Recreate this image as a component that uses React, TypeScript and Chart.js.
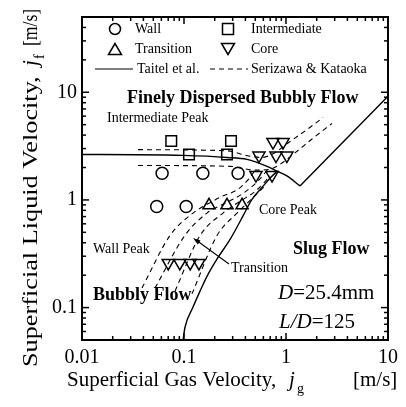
import React, { useEffect, useRef } from 'react';
import { Chart, registerables } from 'chart.js';

Chart.register(...registerables);

const SERIF = '"Liberation Serif", "Times New Roman", serif';

// Measured peak types: gas velocity jg and liquid velocity jf [m/s]
const wallJg = [0.054, 0.105, 0.061, 0.153, 0.339];
const wallJf = [0.87, 0.87, 1.77, 1.77, 1.77];
const interJg = [0.075, 0.289, 0.112, 0.264];
const interJf = [3.53, 3.53, 2.64, 2.64];
const transJg = [0.176, 0.264, 0.371];
const transJf = [0.89, 0.89, 0.89];
const coreJg = [0.07, 0.091, 0.115, 0.14, 0.508, 0.73, 0.543, 0.798, 1.02, 0.746, 0.935];
const coreJf = [0.26, 0.26, 0.26, 0.26, 1.7, 1.7, 2.58, 2.58, 2.58, 3.45, 3.45];

// Taitel et al. boundaries
const taitelDispJg = [0.01, 0.015, 0.098, 0.264, 0.415, 0.652, 0.817, 1.02, 1.37];
const taitelDispJf = [2.64, 2.64, 2.59, 2.48, 2.38, 2.05, 1.85, 1.67, 1.35];
const taitelRightJg = [1.37, 10];
const taitelRightJf = [1.35, 9.2];
const taitelSlugJg = [0.098, 0.102, 0.122, 0.144, 0.168, 0.211, 0.283, 0.379, 0.46, 0.58, 0.7, 0.82];
const taitelSlugJf = [0.05, 0.065, 0.1, 0.143, 0.195, 0.283, 0.43, 0.71, 1.0, 1.3, 1.6, 1.85];

// Serizawa & Kataoka boundaries
const sk1Jg = [0.0354, 0.264, 0.415, 0.582, 0.78, 1.046, 1.57, 2.31];
const sk1Jf = [2.93, 2.86, 2.58, 2.48, 2.75, 3.38, 4.43, 5.82];
const sk2Jg = [0.0354, 0.283, 0.497, 0.697, 0.873, 1.17, 1.8, 2.82];
const sk2Jf = [2.09, 2.05, 1.89, 1.93, 2.14, 2.64, 3.68, 5.13];
const sk3Jg = [0.0387, 0.073, 0.1225, 0.176, 0.236, 0.331, 0.415, 0.508];
const sk3Jf = [0.152, 0.468, 0.755, 0.93, 1.08, 1.24, 1.5, 1.93];
const sk4Jg = [0.052, 0.102, 0.168, 0.252, 0.379, 0.531, 0.667];
const sk4Jf = [0.152, 0.468, 0.755, 0.93, 1.15, 1.5, 1.93];
const sk5Jg = [0.0817, 0.144, 0.241, 0.354, 0.52, 0.697];
const sk5Jf = [0.1426, 0.468, 0.755, 0.97, 1.24, 1.67];
const sk6Jg = [0.1197, 0.211, 0.331, 0.465, 0.622];
const sk6Jf = [0.134, 0.468, 0.755, 1.03, 1.35];

const xTicks = [0.01, 0.1, 1, 10];
const yTicks = [0.1, 1, 10];

const pts = (xs: number[], ys: number[]) => xs.map((x, i) => ({ x, y: ys[i] }));

const markerSet = (label: string, xs: number[], ys: number[], style: string, rotation = 0, radius = 6) => ({
  label,
  data: pts(xs, ys),
  showLine: false,
  pointStyle: style,
  rotation,
  pointRadius: radius,
  pointBorderWidth: 1.5,
  pointBorderColor: '#000',
  pointBackgroundColor: 'rgba(0,0,0,0)',
});

const curveSet = (label: string, xs: number[], ys: number[], dashed: boolean, smooth = true) => ({
  label,
  data: pts(xs, ys),
  showLine: true,
  borderColor: '#000',
  borderWidth: dashed ? 1.1 : 1.4,
  borderDash: dashed ? [5, 4] : [],
  pointRadius: 0,
  cubicInterpolationMode: smooth ? ('monotone' as const) : ('default' as const),
  tension: 0,
  fill: false,
});

type Run = { t: string; font: string; dy?: number; at?: number; sx?: number };

function drawRuns(ctx: CanvasRenderingContext2D, x: number, y: number, runs: Run[]) {
  let cx = x;
  for (const r of runs) {
    ctx.font = r.font;
    if (r.at !== undefined) cx = x + r.at;
    const sx = r.sx || 1;
    ctx.save();
    ctx.translate(cx, y + (r.dy || 0));
    ctx.scale(sx, 1);
    ctx.fillText(r.t, 0, 0);
    ctx.restore();
    cx += ctx.measureText(r.t).width * sx;
  }
}

const decor = {
  id: 'decor',
  afterDraw(chart: any) {
    const { ctx, chartArea: a, scales } = chart;
    const xs = scales.x;
    const ys = scales.y;
    ctx.save();
    ctx.strokeStyle = '#000';
    ctx.fillStyle = '#000';

    // inward tick marks on all four sides
    ctx.lineWidth = 1.5;
    const seg = (x1: number, y1: number, x2: number, y2: number) => {
      ctx.beginPath();
      ctx.moveTo(x1, y1);
      ctx.lineTo(x2, y2);
      ctx.stroke();
    };
    for (let e = -2; e <= 1; e++) {
      for (let m = 1; m <= 9; m++) {
        const v = m * Math.pow(10, e);
        const len = m === 1 ? 7 : 4;
        if (v >= xs.min - 1e-9 && v <= xs.max + 1e-9) {
          const px = xs.getPixelForValue(v);
          seg(px, a.bottom, px, a.bottom - len);
          seg(px, a.top, px, a.top + len);
        }
        if (v >= ys.min - 1e-9 && v <= ys.max + 1e-9) {
          const py = ys.getPixelForValue(v);
          seg(a.left, py, a.left + len, py);
          seg(a.right, py, a.right - len, py);
        }
      }
    }
    ctx.lineWidth = 2;
    ctx.strokeRect(a.left, a.top, a.right - a.left, a.bottom - a.top);

    // legend
    ctx.lineWidth = 1.5;
    const circ = (x: number, y: number) => {
      ctx.beginPath();
      ctx.arc(x, y, 5.5, 0, Math.PI * 2);
      ctx.stroke();
    };
    const sq = (x: number, y: number) => ctx.strokeRect(x - 5.5, y - 5.5, 11, 11);
    const tri = (x: number, y: number, dir: number) => {
      ctx.beginPath();
      ctx.moveTo(x, y - 6.5 * dir);
      ctx.lineTo(x - 6.5, y + 4.5 * dir);
      ctx.lineTo(x + 6.5, y + 4.5 * dir);
      ctx.closePath();
      ctx.stroke();
    };
    circ(115, 29);
    sq(228, 29);
    tri(115, 50, 1);
    tri(228, 48, -1);
    ctx.lineWidth = 1.2;
    seg(95, 69, 133, 69);
    ctx.setLineDash([5, 4]);
    seg(210, 69, 248, 69);
    ctx.setLineDash([]);

    const reg = (s: number) => `${s}px ${SERIF}`;
    const bold = (s: number) => `bold ${s}px ${SERIF}`;
    const ital = (s: number) => `italic ${s}px ${SERIF}`;
    ctx.textBaseline = 'middle';
    ctx.textAlign = 'left';
    ctx.font = reg(14);
    ctx.fillText('Wall', 135, 29);
    ctx.fillText('Intermediate', 251, 29);
    ctx.fillText('Transition', 135, 49);
    ctx.fillText('Core', 251, 49);
    ctx.fillText('Taitel et al.', 137, 69);
    ctx.fillText('Serizawa & Kataoka', 251, 69);

    // region and peak labels
    ctx.font = bold(18);
    ctx.fillText('Finely Dispersed Bubbly Flow', 127, 98);
    ctx.fillText('Slug Flow', 293, 249);
    ctx.fillText('Bubbly Flow', 93, 295);
    ctx.font = reg(14);
    ctx.fillText('Intermediate Peak', 107, 118);
    ctx.fillText('Core Peak', 259, 210);
    ctx.fillText('Wall Peak', 93, 249);
    ctx.fillText('Transition', 231, 268);

    // arrow to the transition band
    ctx.lineWidth = 1.1;
    seg(229, 264, 196, 240);
    ctx.beginPath();
    const ang = Math.atan2(240 - 264, 196 - 229);
    ctx.moveTo(193, 238);
    ctx.lineTo(193 - 8 * Math.cos(ang + 0.3), 238 - 8 * Math.sin(ang + 0.3));
    ctx.lineTo(193 - 8 * Math.cos(ang - 0.3), 238 - 8 * Math.sin(ang - 0.3));
    ctx.closePath();
    ctx.fill();

    // pipe geometry
    drawRuns(ctx, 278, 293, [
      { t: 'D', font: ital(21) },
      { t: '=25.4mm', font: reg(21) },
    ]);
    drawRuns(ctx, 279, 322, [
      { t: 'L/D', font: ital(21) },
      { t: '=125', font: reg(21) },
    ]);

    // axis titles
    ctx.textBaseline = 'alphabetic';
    drawRuns(ctx, 67, 386, [
      { t: 'Superficial Gas Velocity,', font: reg(21) },
      { t: 'j', font: ital(21), at: 222 },
      { t: 'g', font: reg(14), dy: 7, at: 230 },
      { t: '[m/s]', font: reg(21), at: 286 },
    ]);
    ctx.translate(37, 367);
    ctx.rotate(-Math.PI / 2);
    drawRuns(ctx, 0, 0, [
      { t: 'Superficial Liquid Velocity,', font: reg(21), sx: 1.25 },
      { t: 'j', font: ital(21), at: 301 },
      { t: 'f', font: reg(14), dy: 7, at: 308 },
      { t: '[m/s]', font: reg(21), at: 321, sx: 0.84 },
    ]);
    ctx.restore();
  },
};

export default function App() {
  const ref = useRef<HTMLCanvasElement | null>(null);
  useEffect(() => {
    if (!ref.current) return;
    const chart = new Chart(ref.current, {
      type: 'scatter',
      data: {
        datasets: [
          markerSet('Wall', wallJg, wallJf, 'circle', 0, 6),
          markerSet('Intermediate', interJg, interJf, 'rect', 0, 7.5),
          markerSet('Transition', transJg, transJf, 'triangle', 0, 7),
          markerSet('Core', coreJg, coreJf, 'triangle', 180, 7),
          curveSet('Taitel dispersed', taitelDispJg, taitelDispJf, false),
          curveSet('Taitel dispersed right', taitelRightJg, taitelRightJf, false, false),
          curveSet('Taitel slug', taitelSlugJg, taitelSlugJf, false),
          curveSet('SK 1', sk1Jg, sk1Jf, true),
          curveSet('SK 2', sk2Jg, sk2Jf, true),
          curveSet('SK 3', sk3Jg, sk3Jf, true),
          curveSet('SK 4', sk4Jg, sk4Jf, true),
          curveSet('SK 5', sk5Jg, sk5Jf, true),
          curveSet('SK 6', sk6Jg, sk6Jf, true),
        ] as any,
      },
      options: {
        animation: false,
        responsive: true,
        maintainAspectRatio: false,
        layout: { padding: { top: 9, right: 18, left: 0, bottom: 0 } },
        plugins: { legend: { display: false }, tooltip: { enabled: false } },
        scales: {
          x: {
            type: 'logarithmic',
            min: 0.01,
            max: 10,
            grid: { display: false, drawTicks: false },
            border: { display: false },
            afterBuildTicks: (s: any) => {
              s.ticks = xTicks.map((v) => ({ value: v }));
            },
            afterFit: (s: any) => {
              s.height = 67;
            },
            ticks: {
              color: '#000',
              padding: 6,
              autoSkip: false,
              maxRotation: 0,
              font: { family: SERIF, size: 20 },
              callback: (v: any) => String(v),
            },
          },
          y: {
            type: 'logarithmic',
            min: 0.05,
            max: 50,
            grid: { display: false, drawTicks: false },
            border: { display: false },
            afterBuildTicks: (s: any) => {
              s.ticks = yTicks.map((v) => ({ value: v }));
            },
            afterFit: (s: any) => {
              s.width = 82;
            },
            ticks: {
              color: '#000',
              padding: 5,
              autoSkip: false,
              font: { family: SERIF, size: 20 },
              callback: (v: any) => String(v),
            },
          },
        },
      },
      plugins: [decor],
    });
    return () => chart.destroy();
  }, []);
  return (
    <div style={{ position: 'fixed', left: 0, top: 0, width: 406, height: 407, background: '#fff' }}>
      <canvas ref={ref} />
    </div>
  );
}
